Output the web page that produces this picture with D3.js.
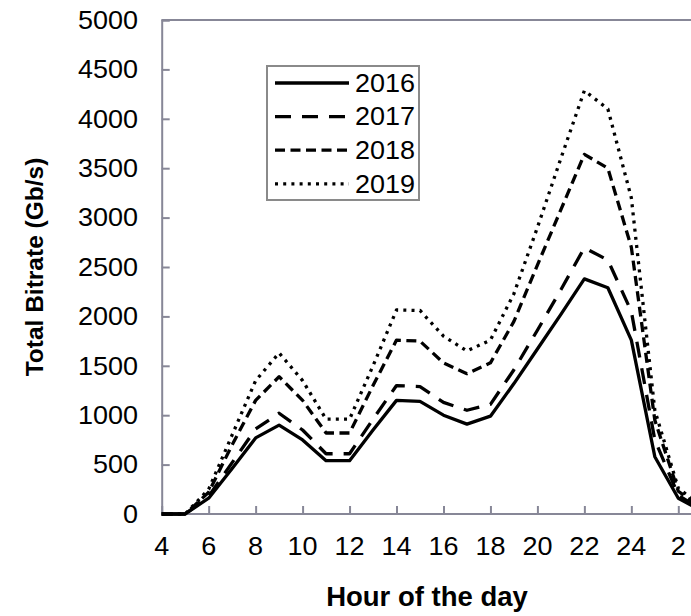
<!DOCTYPE html>
<html>
<head>
<meta charset="utf-8">
<script src="https://cdn.jsdelivr.net/npm/d3@7"></script>
<style>
  body { margin: 0; background: #fff; }
  svg { display: block; font-family: "Liberation Sans", Arial, sans-serif; }
</style>
</head>
<body>
<svg id="chart" width="691" height="616"></svg>
<script>
// hours on the x axis (4 .. 27, next day wraps past 24)
const hours = [4, 5, 6, 7, 8, 9, 10, 11, 12, 13, 14, 15, 16, 17, 18, 19, 20, 21, 22, 23, 24, 25, 26, 27];
const years = ['2016', '2017', '2018', '2019'];
const bitrate2016 = [0, 0, 160, 460, 770, 900, 750, 540, 540, 850, 1150, 1140, 1000, 910, 990, 1320, 1670, 2020, 2380, 2290, 1760, 580, 160, 30];
const bitrate2017 = [0, 0, 180, 520, 860, 1020, 850, 610, 610, 960, 1300, 1290, 1130, 1050, 1110, 1460, 1860, 2270, 2695, 2570, 2050, 750, 190, 40];
const bitrate2018 = [0, 0, 220, 700, 1150, 1390, 1150, 820, 820, 1300, 1760, 1750, 1530, 1420, 1530, 1950, 2520, 3080, 3640, 3500, 2700, 950, 230, 60];
const bitrate2019 = [0, 0, 250, 800, 1350, 1630, 1350, 960, 960, 1500, 2065, 2060, 1800, 1650, 1760, 2230, 2900, 3600, 4285, 4100, 3200, 1050, 260, 80];
const xTicks = [4, 6, 8, 10, 12, 14, 16, 18, 20, 22, 24, 26];
const yTicks = [0, 500, 1000, 1500, 2000, 2500, 3000, 3500, 4000, 4500, 5000];

const series = [bitrate2016, bitrate2017, bitrate2018, bitrate2019];
const dashes = [null, '16,11', '10,5.5', '3,5.2'];
const axisColor = '#878797';
const numStretch = 1.08; // numbers in the original look a bit wide

const svg = d3.select('#chart');

// x: 4 -> 161.7, 26 -> 678.3
const x = d3.scaleLinear().domain([4, 26]).range([161.7, 678.3]);
const y = d3.scaleLinear().domain([0, 5000]).range([514, 20]);

// frame (top edge)
svg.append('line')
    .attr('x1', x(4)).attr('x2', 700)
    .attr('y1', y(5000)).attr('y2', y(5000))
    .attr('stroke', axisColor).attr('stroke-width', 2);

// y axis, ticks pointing inward
const yAxis = svg.append('g')
    .attr('transform', `translate(${x(4)},0)`)
    .call(d3.axisRight(y).tickValues(yTicks).tickSize(8).tickFormat(''));
yAxis.select('.domain').attr('stroke', axisColor).attr('stroke-width', 2);
yAxis.selectAll('.tick line').attr('stroke', axisColor).attr('stroke-width', 2);

svg.append('g').selectAll('text')
    .data(yTicks)
    .join('text')
    .attr('transform', d => `translate(138,${y(d)}) scale(${numStretch},1)`)
    .attr('dy', '0.35em')
    .attr('text-anchor', 'end')
    .attr('font-size', 25)
    .attr('fill', '#000')
    .text(d => d);

// x axis, ticks pointing up
const xAxis = svg.append('g')
    .attr('transform', `translate(0,${y(0)})`)
    .call(d3.axisTop(x).tickValues(xTicks).tickSize(8).tickFormat(''));
xAxis.select('.domain').remove();
xAxis.append('line')
    .attr('x1', x(4)).attr('x2', 700)
    .attr('stroke', axisColor).attr('stroke-width', 2);
xAxis.selectAll('.tick line').attr('stroke', axisColor).attr('stroke-width', 2);

svg.append('g').selectAll('text')
    .data(xTicks)
    .join('text')
    .attr('transform', d => `translate(${x(d)},546) scale(${numStretch},1)`)
    .attr('dy', '0.35em')
    .attr('text-anchor', 'middle')
    .attr('font-size', 25)
    .attr('fill', '#000')
    .text(d => d > 24 ? d - 24 : d);

// series lines
const line = d3.line()
    .x((d, i) => x(hours[i]))
    .y(d => y(d));

svg.append('g').selectAll('path')
    .data(series)
    .join('path')
    .attr('d', line)
    .attr('fill', 'none')
    .attr('stroke', '#000')
    .attr('stroke-width', 3.3)
    .attr('stroke-linejoin', 'round')
    .attr('stroke-dasharray', (d, i) => dashes[i]);

// legend
const legend = svg.append('g');
legend.append('rect')
    .attr('x', 267).attr('y', 66)
    .attr('width', 152).attr('height', 134)
    .attr('fill', '#fff')
    .attr('stroke', '#8a8a8a').attr('stroke-width', 2);
const item = legend.selectAll('.item')
    .data(years)
    .join('g')
    .attr('class', 'item')
    .attr('transform', (d, i) => `translate(0,${83 + i * 33.6})`);
item.append('line')
    .attr('x1', 275).attr('x2', 349)
    .attr('stroke', '#000').attr('stroke-width', 3.3)
    .attr('stroke-dasharray', (d, i) => dashes[i]);
item.append('text')
    .attr('transform', `translate(355,0) scale(${numStretch},1)`)
    .attr('dy', '0.35em')
    .attr('font-size', 25)
    .text(d => d);

// axis titles
svg.append('text')
    .attr('transform', 'translate(43,267) rotate(-90)')
    .attr('text-anchor', 'middle')
    .attr('font-size', 24.5)
    .attr('font-weight', 'bold')
    .text('Total Bitrate (Gb/s)');
svg.append('text')
    .attr('x', 427).attr('y', 606)
    .attr('text-anchor', 'middle')
    .attr('font-size', 27.5)
    .attr('font-weight', 'bold')
    .text('Hour of the day');
</script>
</body>
</html>
